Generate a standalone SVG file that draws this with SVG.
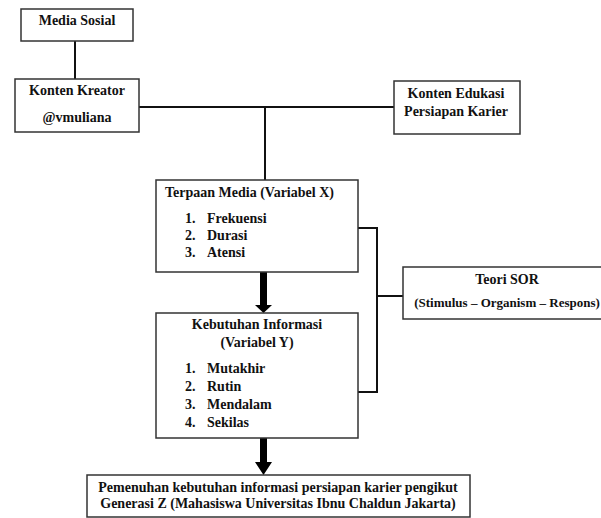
<svg xmlns="http://www.w3.org/2000/svg" width="601" height="518" viewBox="0 0 601 518">
<style>
.box{fill:#fff;stroke:#333;stroke-width:1.5}
.t{font-family:"Liberation Serif","Times New Roman",serif;font-weight:bold;font-size:14px;fill:#111}
.s{font-size:13px}
.c{text-anchor:middle}
.ln{fill:none;stroke:#111;stroke-width:2}
.arr{fill:#000}
</style>
<rect width="601" height="518" fill="#fff"/>
<g id="connectors">
<path class="ln" d="M75,41 V79"/>
<path class="ln" d="M139,107 H394"/>
<path class="ln" d="M265,107 V180"/>
<path class="ln" d="M358,228 H377 V392 H358"/>
<path class="ln" d="M377,296 H403"/>
<path class="arr" d="M260,272 H267 V305 H272 L263.5,313 L255,305 H260 Z"/>
<path class="arr" d="M260,438 H267 V462 H272 L263.5,475 L255,462 H260 Z"/>
</g>
<g id="media-sosial">
<rect class="box" x="21" y="9" width="112" height="32"/>
<text class="t c" x="77" y="25">Media Sosial</text>
</g>
<g id="konten-kreator">
<rect class="box" x="15" y="79" width="124" height="53"/>
<text class="t c" x="77" y="95">Konten Kreator</text>
<text class="t c" x="77" y="122">@vmuliana</text>
</g>
<g id="konten-edukasi">
<rect class="box" x="394" y="81" width="126" height="53"/>
<text class="t c" x="456" y="98">Konten Edukasi</text>
<text class="t c" x="456" y="116">Persiapan Karier</text>
</g>
<g id="terpaan-media">
<rect class="box" x="156" y="180" width="202" height="92"/>
<text class="t" x="165" y="197">Terpaan Media (Variabel X)</text>
<text class="t" x="185" y="223">1.</text><text class="t" x="207" y="223">Frekuensi</text>
<text class="t" x="185" y="240">2.</text><text class="t" x="207" y="240">Durasi</text>
<text class="t" x="185" y="257">3.</text><text class="t" x="207" y="257">Atensi</text>
</g>
<g id="kebutuhan-informasi">
<rect class="box" x="156" y="313" width="202" height="125"/>
<text class="t c" x="257" y="329">Kebutuhan Informasi</text>
<text class="t c" x="257" y="347">(Variabel Y)</text>
<text class="t" x="185" y="373">1.</text><text class="t" x="207" y="373">Mutakhir</text>
<text class="t" x="185" y="391">2.</text><text class="t" x="207" y="391">Rutin</text>
<text class="t" x="185" y="409">3.</text><text class="t" x="207" y="409">Mendalam</text>
<text class="t" x="185" y="427">4.</text><text class="t" x="207" y="427">Sekilas</text>
</g>
<g id="teori-sor">
<rect class="box" x="403" y="267" width="200" height="52"/>
<text class="t c" x="507" y="284">Teori SOR</text>
<text class="t s c" x="507" y="307">(Stimulus – Organism – Respons)</text>
</g>
<g id="pemenuhan">
<rect class="box" x="87" y="475" width="383" height="42"/>
<text class="t c" x="278" y="492">Pemenuhan kebutuhan informasi persiapan karier pengikut</text>
<text class="t c" x="278" y="508">Generasi Z (Mahasiswa Universitas Ibnu Chaldun Jakarta)</text>
</g>
</svg>
